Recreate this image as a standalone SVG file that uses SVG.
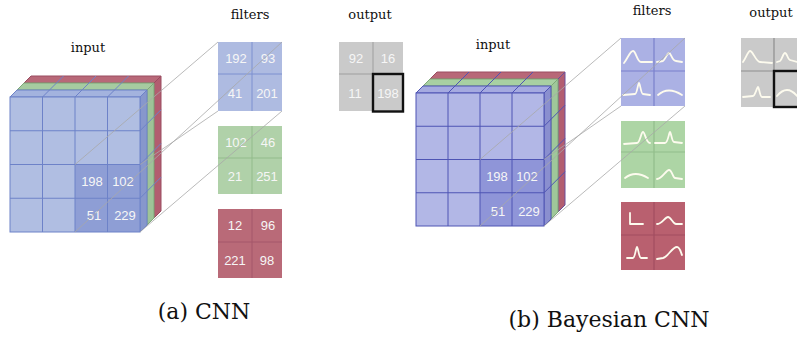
<svg xmlns="http://www.w3.org/2000/svg" width="797" height="338" viewBox="0 0 797 338">
<style>
  .lbl{font-family:"DejaVu Serif","Liberation Serif",serif;font-size:13px;fill:#111;text-anchor:middle}
  .cap{font-family:"DejaVu Serif","Liberation Serif",serif;font-size:22px;fill:#111;text-anchor:middle}
  .num{font-family:"Liberation Sans",Arial,sans-serif;font-size:13px;fill:#f6f6f6;text-anchor:middle}
  .conn{stroke:#a8a8a8;stroke-width:0.8;fill:none}
  .gl{stroke:#6d82c8;stroke-width:1}
  .gr{stroke:#4e54b4;stroke-width:1}
  .cv{stroke:#fdfbee;stroke-width:1.8;fill:none;stroke-linecap:round;stroke-linejoin:round}
</style>
<rect width="797" height="338" fill="#ffffff"/>

<!-- ============ (a) CNN ============ -->
<g id="input-cnn">
  <polygon points="24,83 154,83 161,76 31,76" fill="#b86878" stroke="#9a4c60" stroke-width="1"/>
  <polygon points="154,83 161,76 161,211 154,218" fill="#b25d70" stroke="#9a4c60" stroke-width="1"/>
  <polygon points="17,90 147,90 154,83 24,83" fill="#a6cba0" stroke="#7ea878" stroke-width="1"/>
  <polygon points="147,90 154,83 154,218 147,225" fill="#9ec398" stroke="#7ea878" stroke-width="1"/>
  <polygon points="10,97 140,97 147,90 17,90" fill="#a3b3de" class="gl"/>
  <polygon points="140,97 147,90 147,225 140,232" fill="#8797cc" class="gl"/>
  <rect x="10" y="97" width="130" height="135" fill="#b0bee2"/>
  <rect x="75" y="164.5" width="65" height="67.5" fill="#8e9ed5"/>
  <path class="gl" fill="none" d="M42.5,97V232M75,97V232M107.5,97V232M10,130.75H140M10,164.5H140M10,198.25H140"/>
  <path class="gl" fill="none" d="M42.5,97l21,-21M75,97l21,-21M107.5,97l21,-21M140,130.75l21,-21M140,164.5l21,-21M140,198.25l21,-21"/>
  <rect x="10" y="97" width="130" height="135" class="gl" fill="none"/>
  <text class="num" x="92" y="186">198</text>
  <text class="num" x="123" y="186">102</text>
  <text class="num" x="94" y="220">51</text>
  <text class="num" x="125" y="220">229</text>
</g>

<g id="filter-blue-cnn">
  <rect x="218" y="42" width="64" height="69" fill="#aebbe1"/>
  <path d="M252,42V111M218,74H282" stroke="#7c90d0" stroke-width="1"/>
  <text class="num" x="236" y="63">192</text>
  <text class="num" x="268" y="63">93</text>
  <text class="num" x="235" y="98">41</text>
  <text class="num" x="267" y="98">201</text>
</g>
<g id="filter-green-cnn">
  <rect x="218" y="126" width="64" height="68" fill="#b0d1a9"/>
  <path d="M252,126V194M218,158H282" stroke="#92bb8b" stroke-width="1"/>
  <text class="num" x="236" y="147">102</text>
  <text class="num" x="268" y="147">46</text>
  <text class="num" x="235" y="181">21</text>
  <text class="num" x="267" y="181">251</text>
</g>
<g id="filter-red-cnn">
  <rect x="218" y="209" width="64" height="69" fill="#b96a78"/>
  <path d="M252,209V278M218,242H282" stroke="#a4566a" stroke-width="1"/>
  <text class="num" x="235" y="230">12</text>
  <text class="num" x="268" y="230">96</text>
  <text class="num" x="235" y="265">221</text>
  <text class="num" x="267" y="265">98</text>
</g>
<g id="output-cnn">
  <rect x="339" y="42" width="64" height="69" fill="#cacaca"/>
  <path d="M373,42V111M339,74H403" stroke="#9e9e9e" stroke-width="1"/>
  <text class="num" x="356" y="63">92</text>
  <text class="num" x="388" y="63">16</text>
  <text class="num" x="355" y="98">11</text>
  <text class="num" x="388" y="98">198</text>
  <rect x="373" y="74" width="30" height="37.5" fill="none" stroke="#111" stroke-width="2.4"/>
</g>

<g id="labels-cnn">
  <text class="lbl" x="88" y="52">input</text>
  <text class="lbl" x="250" y="19">filters</text>
  <text class="lbl" x="370" y="19">output</text>
  <text class="cap" x="204" y="319">(a) CNN</text>
</g>

<!-- ============ (b) Bayesian CNN ============ -->
<g id="input-bcnn">
  <polygon points="430,79 558,79 565,72 437,72" fill="#b86878" stroke="#9a4c60" stroke-width="1"/>
  <polygon points="558,79 565,72 565,205 558,212" fill="#b25d70" stroke="#6a4f9a" stroke-width="1"/>
  <polygon points="423,86 551,86 558,79 430,79" fill="#a8d0a2" stroke="#7ea878" stroke-width="1"/>
  <polygon points="551,86 558,79 558,212 551,219" fill="#9fc79a" stroke="#7ea878" stroke-width="1"/>
  <polygon points="416,93 544,93 551,86 423,86" fill="#a5aae0" class="gr"/>
  <polygon points="544,93 551,86 551,219 544,226" fill="#8a8fcf" class="gr"/>
  <rect x="416" y="93" width="128" height="133" fill="#b2b7e6"/>
  <rect x="480" y="159.5" width="64" height="66.5" fill="#8f95d8"/>
  <path class="gr" fill="none" d="M448,93V226M480,93V226M512,93V226M416,126.25H544M416,159.5H544M416,192.75H544"/>
  <path class="gr" fill="none" d="M448,93l21,-21M480,93l21,-21M512,93l21,-21M544,126.25l21,-21M544,159.5l21,-21M544,192.75l21,-21"/>
  <rect x="416" y="93" width="128" height="133" class="gr" fill="none"/>
  <text class="num" x="497" y="181">198</text>
  <text class="num" x="527" y="181">102</text>
  <text class="num" x="498" y="216">51</text>
  <text class="num" x="529" y="216">229</text>
</g>

<g id="filter-blue-bcnn">
  <rect x="621" y="38" width="64" height="68" fill="#abb1e4"/>
  <path d="M654,38V106M621,71H685" stroke="#7a80cc" stroke-width="1.2"/>
  <path class="cv" transform="translate(621,38)" d="M3,25C7,20 9,13 12,13C15,13 16,24 20,24L31,24"/>
  <path class="cv" transform="translate(654,38)" d="M3,24L9,23C11,22 13,15 15,15C17,15 18,23 22,23L28,24"/>
  <path class="cv" transform="translate(621,71)" d="M2,24L14,23C16,23 17,12 18,12C19,12 20,23 22,23L29,24"/>
  <path class="cv" transform="translate(654,71)" d="M4,24Q14,15 28,24"/>
</g>
<g id="filter-green-bcnn">
  <rect x="621" y="121" width="64" height="67" fill="#add5a5"/>
  <path d="M654,121V188M621,152H685" stroke="#92bd8b" stroke-width="1.2"/>
  <path class="cv" transform="translate(621,121)" d="M3,23L16,22C19,22 20,11 22,11C24,11 25,22 29,22"/>
  <path class="cv" transform="translate(654,121)" d="M1,22L11,22C14,22 15,11 16,11C17,11 18,21 20,21L28,22"/>
  <path class="cv" transform="translate(621,152)" d="M4,26Q14,18 27,26"/>
  <path class="cv" transform="translate(654,152)" d="M3,27C8,27 12,18 15,18C18,18 19,26 21,26L28,27"/>
</g>
<g id="filter-red-bcnn">
  <rect x="621" y="202" width="64" height="68" fill="#b9606f"/>
  <path d="M654,202V270M621,235H685" stroke="#a24d60" stroke-width="1.2"/>
  <path class="cv" transform="translate(621,202)" d="M9,11L9,22L22,22" stroke-width="2.6"/>
  <path class="cv" transform="translate(654,202)" d="M3,22C8,22 11,15 14,15C17,15 19,22 22,22L28,22"/>
  <path class="cv" transform="translate(621,235)" d="M6,23L12,23C14,23 15,12 16,12C17,12 18,23 20,23L26,23"/>
  <path class="cv" transform="translate(654,235)" d="M3,24L9,23C14,22 18,12 23,12C26,12 27,18 28,20"/>
</g>
<g id="output-bcnn">
  <rect x="741" y="38" width="66" height="69" fill="#cacaca"/>
  <path d="M774,38V107M741,71H807" stroke="#8e8e8e" stroke-width="1.2"/>
  <path class="cv" transform="translate(741,38)" d="M2,24C5,20 7,13 9,13C12,13 15,24 19,24L31,25"/>
  <path class="cv" transform="translate(774,38)" d="M3,24L6,23C8,22 9,15 11,15C13,15 14,22 16,22L23,24"/>
  <path class="cv" transform="translate(741,71)" d="M2,26L12,25C14,25 16,16 17,16C18,16 19,26 21,26L29,26"/>
  <path class="cv" transform="translate(774,71)" d="M3,25Q13,13 23,25"/>
  <rect x="774" y="71" width="34" height="36" fill="none" stroke="#111" stroke-width="2.4"/>
</g>

<g id="labels-bcnn">
  <text class="lbl" x="493" y="49">input</text>
  <text class="lbl" x="652" y="15">filters</text>
  <text class="lbl" x="771" y="17">output</text>
  <text class="cap" x="609" y="327">(b) Bayesian CNN</text>
</g>

<g id="connectors">
  <line class="conn" x1="75" y1="164.5" x2="218" y2="42"/>
  <line class="conn" x1="75" y1="232" x2="282" y2="42"/>
  <line class="conn" x1="140" y1="164.5" x2="218" y2="111"/>
  <line class="conn" x1="140" y1="232" x2="282" y2="111"/>
  <line class="conn" x1="480" y1="159.5" x2="621" y2="38"/>
  <line class="conn" x1="480" y1="226" x2="685" y2="38"/>
  <line class="conn" x1="544" y1="159.5" x2="621" y2="106"/>
  <line class="conn" x1="544" y1="226" x2="685" y2="106"/>
</g>
</svg>
